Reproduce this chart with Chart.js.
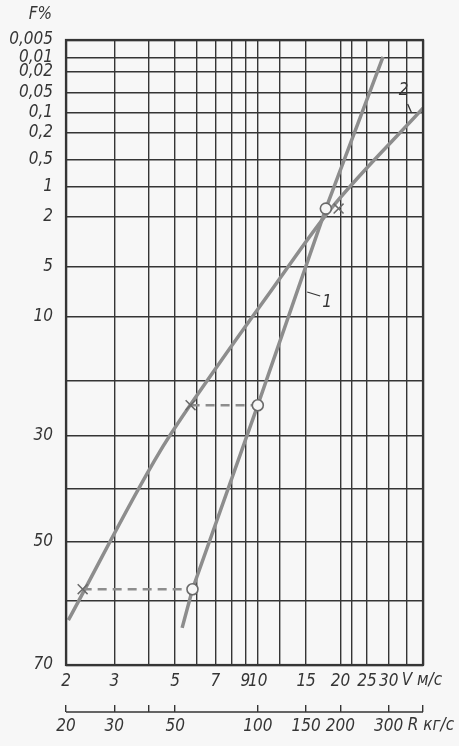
<!DOCTYPE html>
<html>
<head>
<meta charset="utf-8">
<script src="https://cdn.jsdelivr.net/npm/chart.js@4/dist/chart.umd.min.js"></script>
<style>
  html, body { margin: 0; padding: 0; background: #f7f7f7; }
  canvas { display: block; }
</style>
</head>
<body>
<canvas id="chart" width="459" height="746"></canvas>
<script>
// --- Axes ---
const V_GRID   = [2, 3, 4, 5, 6, 7, 8, 9, 10, 12, 15, 20, 22, 25, 30, 35, 40];
const V_LABELS = { 2: "2", 3: "3", 5: "5", 7: "7", 9: "9", 10: "10", 15: "15", 20: "20", 25: "25", 30: "30" };
const V_UNIT   = "V м/с";
const R_TICKS  = [20, 30, 40, 50, 100, 150, 200, 300, 400];
const R_LABELS = { 20: "20", 30: "30", 50: "50", 100: "100", 150: "150", 200: "200", 300: "300" };
const R_UNIT   = "R кг/с";
const F_TICKS  = [0.005, 0.01, 0.02, 0.05, 0.1, 0.2, 0.5, 1, 2, 5, 10, 20, 30, 40, 50, 60, 70];
const F_LABELS = ["0,005", "0,01", "0,02", "0,05", "0,1", "0,2", "0,5", "1", "2", "5", "10", "", "30", "", "50", "", "70"];

// --- Curves (V m/s, F %) ---
const LINE1_V = [5.3, 5.78, 10.0, 17.7, 28.6];
const LINE1_F = [64.2, 58.0, 24.4, 1.72, 0.0097];
const LINE2_V = [2.04, 4.39, 6.96, 11.1, 18.3, 40];
const LINE2_F = [63.0, 33.0, 18.3, 7.5, 1.77, 0.088];

// --- Measured points ---
const CIRCLE_V = [5.78, 10.0, 17.7];
const CROSS_V  = [2.30, 5.69, 19.7];
const POINT_F  = [58.0, 24.4, 1.72];

// dashed links between cross and circle (first two pairs)
const LINK_COUNT = 2;

// curve numbers
const TAG_TEXT = ["1", "2"];
const TAG_V    = [17.9, 34];
const TAG_F    = [8.6, 0.047];

const INK  = "#353535";
const PEN  = "#8d8d8d";
const FONT = { family: "'DejaVu Sans Condensed', 'DejaVu Sans', sans-serif", size: 17, style: "italic" };
const FONT_CSS = "italic 17px 'DejaVu Sans Condensed', 'DejaVu Sans', sans-serif";

// probability paper: depth of each F grid line on the sheet (relative)
const PAPER_DEPTH = [0, 18, 32, 53, 73, 93, 120, 147, 177, 227, 277, 341, 396, 449, 502, 561, 625];

function paperDepth(f) {
  const n = F_TICKS.length;
  const total = PAPER_DEPTH[n - 1];
  if (f <= F_TICKS[0]) return 0;
  if (f >= F_TICKS[n - 1]) return 1;
  for (let i = 1; i < n; i++) {
    if (f <= F_TICKS[i]) {
      const t = (f - F_TICKS[i - 1]) / (F_TICKS[i] - F_TICKS[i - 1]);
      return (PAPER_DEPTH[i - 1] + t * (PAPER_DEPTH[i] - PAPER_DEPTH[i - 1])) / total;
    }
  }
  return 1;
}

function depthToF(d) {
  const n = F_TICKS.length;
  const total = PAPER_DEPTH[n - 1];
  const p = d * total;
  for (let i = 1; i < n; i++) {
    if (p <= PAPER_DEPTH[i]) {
      const t = (p - PAPER_DEPTH[i - 1]) / (PAPER_DEPTH[i] - PAPER_DEPTH[i - 1]);
      return F_TICKS[i - 1] + t * (F_TICKS[i] - F_TICKS[i - 1]);
    }
  }
  return F_TICKS[n - 1];
}

class ProbabilityScale extends Chart.Scale {
  static id = "probability";
  static defaults = {};
  determineDataLimits() {
    this.min = F_TICKS[0];
    this.max = F_TICKS[F_TICKS.length - 1];
  }
  buildTicks() {
    return F_TICKS.map(v => ({ value: v }));
  }
  getLabelForValue(v) {
    return String(v).replace(".", ",");
  }
  getPixelForValue(v) {
    return this.getPixelForDecimal(1 - paperDepth(v));
  }
  getValueForPixel(p) {
    return depthToF(1 - this.getDecimalForPixel(p));
  }
}
Chart.register(ProbabilityScale);

const pts = (xs, ys) => xs.map((x, i) => ({ x, y: ys[i] }));

const datasets = [
  {
    data: pts(CIRCLE_V, POINT_F),
    pointStyle: "circle", pointRadius: 5.5,
    pointBackgroundColor: "#f7f7f7", pointBorderColor: "#6a6a6a", pointBorderWidth: 1.6,
    showLine: false
  },
  {
    data: pts(CROSS_V, POINT_F),
    pointStyle: "crossRot", pointRadius: 7,
    pointBorderColor: "#6a6a6a", pointBorderWidth: 1.5,
    showLine: false
  }
];

for (let i = 0; i < LINK_COUNT; i++) {
  datasets.push({
    data: [{ x: CROSS_V[i], y: POINT_F[i] }, { x: CIRCLE_V[i], y: POINT_F[i] }],
    showLine: true, pointRadius: 0,
    borderColor: PEN, borderWidth: 2.5, borderDash: [9, 6]
  });
}

datasets.push({
  data: pts(LINE1_V, LINE1_F),
  showLine: true, pointRadius: 0,
  borderColor: PEN, borderWidth: 3.5
});
datasets.push({
  data: pts(LINE2_V, LINE2_F),
  showLine: true, pointRadius: 0, cubicInterpolationMode: "monotone",
  borderColor: PEN, borderWidth: 3.5
});

// --- Frame, R baseline, captions and curve numbers ---
const paperNotes = {
  id: "paperNotes",
  afterDraw(chart) {
    const { ctx, chartArea: a, scales } = chart;
    const x = scales.x, y = scales.y, r = scales.x2;
    ctx.save();
    ctx.strokeStyle = INK;
    ctx.lineWidth = 2.2;
    ctx.strokeRect(a.left, a.top, a.right - a.left, a.bottom - a.top);

    const by = r.top + 7;
    ctx.lineWidth = 1.6;
    ctx.beginPath();
    ctx.moveTo(r.getPixelForValue(R_TICKS[0]), by);
    ctx.lineTo(r.getPixelForValue(R_TICKS[R_TICKS.length - 1]), by);
    ctx.stroke();

    ctx.font = FONT_CSS;
    ctx.fillStyle = INK;
    ctx.textBaseline = "middle";
    ctx.textAlign = "right";
    ctx.fillText("F%", a.left - 14, a.top - 25);

    ctx.textAlign = "left";
    ctx.fillText(V_UNIT, x.getPixelForValue(30) + 13, x.top + 16);
    ctx.fillText(R_UNIT, r.getPixelForValue(300) + 19, r.top + 21);

    ctx.textAlign = "center";
    const leads = [[-20, -11, -7, -7], [4, 13, 8, 22]];
    TAG_TEXT.forEach((t, i) => {
      const px = x.getPixelForValue(TAG_V[i]);
      const py = y.getPixelForValue(TAG_F[i]);
      ctx.fillText(t, px, py);
      const l = leads[i];
      ctx.lineWidth = 1.3;
      ctx.beginPath();
      ctx.moveTo(px + l[0], py + l[1]);
      ctx.lineTo(px + l[2], py + l[3]);
      ctx.stroke();
    });
    ctx.restore();
  }
};

const edgeWidth = ctx => (ctx.index === 0 || ctx.index === ctx.scale.ticks.length - 1) ? 2.2 : 1.4;

new Chart(document.getElementById("chart"), {
  type: "scatter",
  data: { datasets },
  plugins: [paperNotes],
  options: {
    responsive: false,
    animation: false,
    layout: { padding: { left: 0, top: 40, right: 36, bottom: 6 } },
    plugins: { legend: { display: false }, tooltip: { enabled: false } },
    scales: {
      x: {
        type: "logarithmic",
        position: "bottom",
        min: 2, max: 40,
        afterBuildTicks: s => { s.ticks = V_GRID.map(v => ({ value: v })); },
        afterFit: s => { s.height = 40; },
        grid: { color: INK, lineWidth: edgeWidth, drawTicks: false },
        border: { display: false },
        ticks: {
          autoSkip: false, maxRotation: 0, padding: 6,
          color: INK, font: FONT,
          callback: v => V_LABELS[v] || ""
        }
      },
      x2: {
        type: "logarithmic",
        position: "bottom",
        axis: "x",
        weight: 1,
        min: 20, max: 400,
        afterBuildTicks: s => { s.ticks = R_TICKS.map(v => ({ value: v })); },
        afterFit: s => { s.height = 35; },
        grid: { drawOnChartArea: false, drawTicks: true, tickLength: 7, color: INK, lineWidth: 1.4 },
        border: { display: false },
        ticks: {
          autoSkip: false, maxRotation: 0, padding: 4,
          color: INK, font: FONT,
          callback: v => R_LABELS[v] || ""
        }
      },
      y: {
        type: "probability",
        position: "left",
        afterFit: s => { s.width = 66; },
        grid: { color: INK, lineWidth: edgeWidth, drawTicks: false },
        border: { display: false },
        ticks: {
          padding: 13, color: INK, font: FONT,
          callback: (v, i) => F_LABELS[i]
        }
      }
    }
  }
});
</script>
</body>
</html>
